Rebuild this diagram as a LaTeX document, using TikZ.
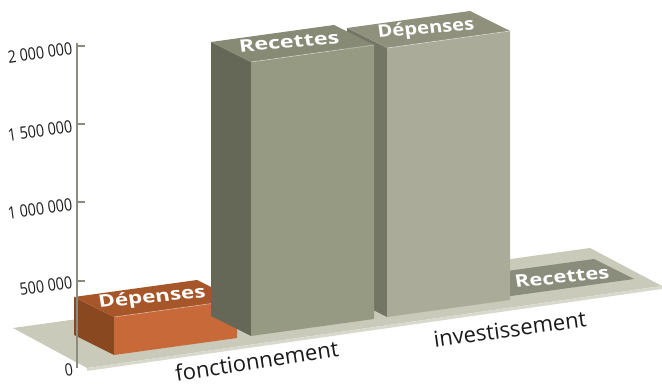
\documentclass[tikz,border=0pt]{standalone}
\usepackage{fontspec}
\setmainfont{Open Sans}
\usetikzlibrary{calc}
\definecolor{floorc}{HTML}{C9CAB9}
\definecolor{floorf}{HTML}{D8D9CC}
\definecolor{patchc}{HTML}{8B8D7C}
\definecolor{orfront}{HTML}{C8693A}
\definecolor{orside}{HTML}{8A4820}
\definecolor{ortop}{HTML}{A65629}
\definecolor{rffront}{HTML}{979A82}
\definecolor{rfside}{HTML}{656857}
\definecolor{rftop}{HTML}{878A75}
\definecolor{difront}{HTML}{AAAB99}
\definecolor{diside}{HTML}{737565}
\definecolor{ditop}{HTML}{8F917D}
\definecolor{axisc}{HTML}{8B8C7F}
\definecolor{txtc}{HTML}{1A1A1A}
\newcommand\drawbar[7]{%
  \coordinate (#1) at (#2,#3);
  \fill[#6] (#1) -- ++(0,-#4) -- ++(-40,-20) -- ++(0,#4) -- cycle;
  \fill[#7] ($(#1)+(0,-#4)$) -- ++(123,-17) -- ++(-40,-20) -- ++(-123,17) -- cycle;
  \fill[#5] (#1) -- ++(123,-17) -- ++(0,-#4) -- ++(-123,17) -- cycle;
  \draw[white, opacity=0.35, line width=0.8pt] ($(#1)+(0,-#4)$) -- ++(123,-17);
}
\begin{document}
\begin{tikzpicture}[x=1pt,y=-1pt,
  ticklab/.style={text=txtc, font=\fontsize{17}{19}\selectfont, inner sep=0pt, anchor=base east, rotate=8, xscale=0.84},
  catlab/.style={text=txtc, font=\fontsize{22}{26}\selectfont, inner sep=0pt, anchor=base},
  barlab/.style={text=white, font=\bfseries\fontsize{22}{26}\selectfont, inner sep=0pt, yscale=0.78},
  axisline/.style={draw=axisc, line width=1.6pt},
  tickline/.style={draw=axisc, line width=1.2pt}]
\useasboundingbox (0,0) rectangle (662,387);
% floor
\coordinate (fl1) at (13,328);
\coordinate (fl2) at (590,248);
\coordinate (fl3) at (662,286);
\coordinate (fl4) at (87,368);
\fill[floorc] (fl1) -- (fl2) -- (fl3) -- (fl4) -- cycle;
\fill[floorf] (fl4) -- (fl3) -- ++(0,3) -- ($(fl4)+(0,3)$) -- cycle;
% flat Recettes (investissement)
\coordinate (pa) at (511,296);
\fill[patchc] (pa) -- ++(123,-17) -- ++(-40,-20) -- ++(-123,17) -- cycle;
% bars
\drawbar{orb}{114}{355}{38}{orfront}{orside}{ortop}
\drawbar{dib}{387}{317}{269}{difront}{diside}{ditop}
\drawbar{rfb}{251}{336}{274}{rffront}{rfside}{rftop}
% bar labels
\node[barlab, rotate=7, xscale=1.02] (lorb) at (152,298) {Dépenses};
\node[barlab, rotate=6, xscale=1.06] (lrfb) at (289,42) {Recettes};
\node[barlab, rotate=6, xscale=0.92] (ldib) at (426,29) {Dépenses};
\node[barlab, rotate=7.5, xscale=1.0] (lpa) at (562,277) {Recettes};
% category labels
\node[catlab, rotate=8.7] (cf) at (258,369) {fonctionnement};
\node[catlab, rotate=7.8] (ci) at (511,337) {investissement};
% axis
\coordinate (ax1) at (77,43);
\coordinate (ax2) at (77,368);
\draw[axisline] (ax1) -- (ax2);
\foreach \yy/\nm in {46/a,124/b,202/c,281/d}{
  \coordinate (tk\nm) at (77,\yy);
  \draw[tickline] (tk\nm) -- ++(8,0);
}
\node[ticklab] (t4) at (73,54) {2 000 000};
\node[ticklab] (t3) at (73,132) {1 500 000};
\node[ticklab] (t2) at (73,210) {1 000 000};
\node[ticklab] (t1) at (73,288) {500 000};
\node[ticklab] (t0) at (74,375) {0};
\end{tikzpicture}
\end{document}
